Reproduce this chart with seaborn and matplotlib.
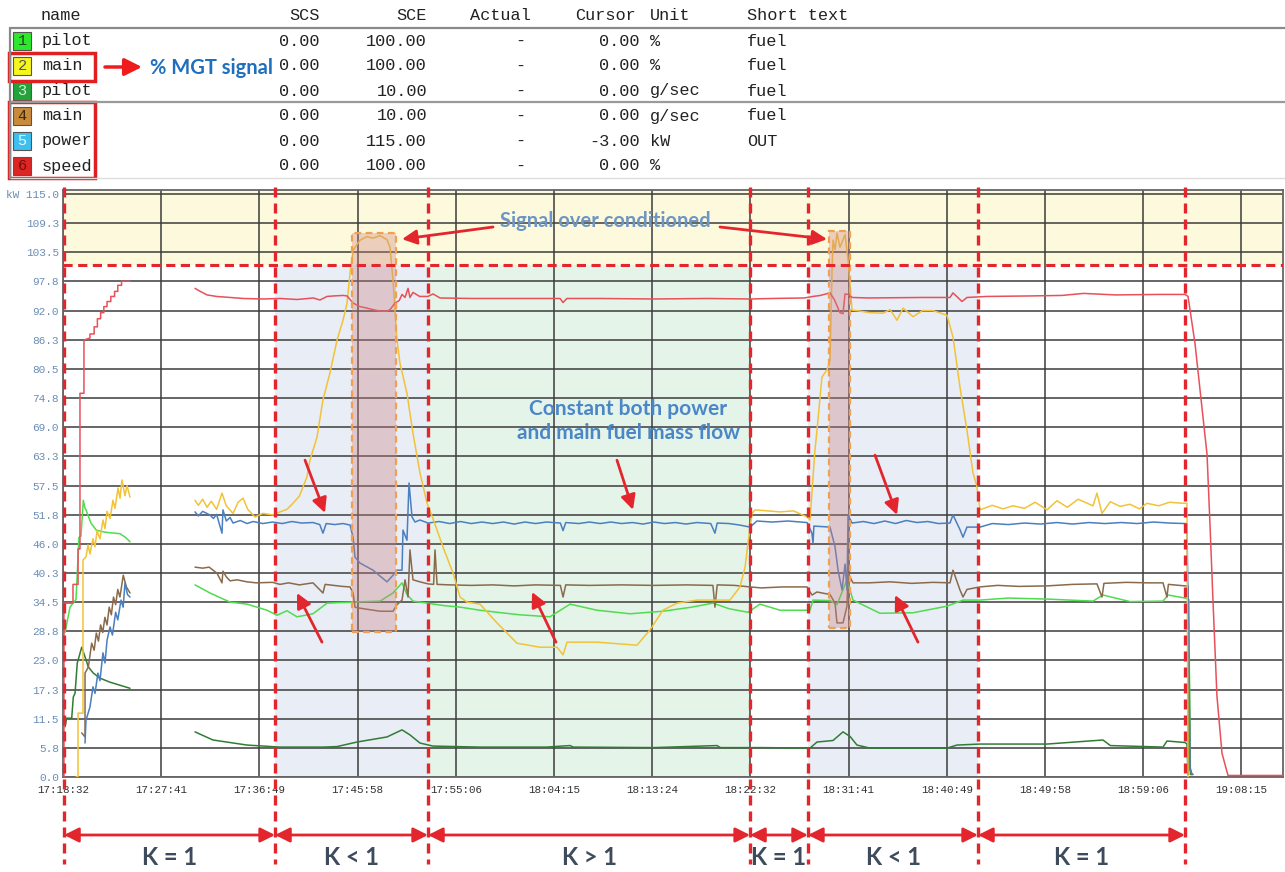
import pandas as pd
import seaborn as sns
import matplotlib.pyplot as plt
import matplotlib.transforms as mtransforms
from matplotlib.patches import Rectangle

# ---------------- data ----------------
# time axis: minutes after 17:18:32, one grid step = 9 min 08.5 s
tick_labels = ['17:18:32', '17:27:41', '17:36:49', '17:45:58', '17:55:06', '18:04:15', '18:13:24',
               '18:22:32', '18:31:41', '18:40:49', '18:49:58', '18:59:06', '19:08:15']
ytick_labels = ['0.0', '5.8', '11.5', '17.3', '23.0', '28.8', '34.5', '40.3', '46.0', '51.8', '57.5',
                '63.3', '69.0', '74.8', '80.5', '86.3', '92.0', '97.8', '103.5', '109.3', 'kW 115.0']

# channel table
sig_num = ['1', '2', '3', '4', '5', '6']
sig_name = ['pilot', 'main', 'pilot', 'main', 'power', 'speed']
sig_scs = ['0.00', '0.00', '0.00', '0.00', '0.00', '0.00']
sig_sce = ['100.00', '100.00', '10.00', '10.00', '115.00', '100.00']
sig_actual = ['-', '-', '-', '-', '-', '-']
sig_cursor = ['0.00', '0.00', '0.00', '0.00', '-3.00', '0.00']
sig_unit = ['%', '%', 'g/sec', 'g/sec', 'kW', '%']
sig_short = ['fuel', 'fuel', 'fuel', 'fuel', 'OUT', '']

# phases (minutes) and their K label
phase_edges = [0.1, 19.74, 33.98, 63.96, 69.35, 85.18, 104.45]
phase_labels = ['K = 1', 'K < 1', 'K > 1', 'K = 1', 'K < 1', 'K = 1']
speed_limit = 101.0
# over-conditioned windows: t0, t1, low, high
over_windows = [(26.9, 31.0, 28.6, 107.3), (71.31, 73.27, 29.4, 107.7)]

# traces: (minute, value)
speed_start = [(0.09, 0.0), (0.09, 34.3), (0.93, 34.3), (0.93, 38.0), (1.40, 38.0), (1.40, 45.0),
               (1.58, 45.0), (1.58, 75.7), (1.95, 75.7), (1.95, 86.2), (2.51, 86.6), (2.51, 87.4),
               (2.90, 87.4), (2.90, 88.8), (3.20, 88.8), (3.20, 90.4), (3.50, 90.4), (3.50, 91.6),
               (3.80, 91.6), (3.80, 92.8), (4.10, 92.8), (4.10, 93.8), (4.45, 93.8), (4.45, 94.8),
               (4.80, 94.8), (4.80, 95.8), (5.10, 95.8), (5.10, 97.0), (5.45, 97.0), (5.45, 97.8),
               (6.24, 97.8)]
speed_run = [(12.29, 96.4), (12.6, 96.0), (13.41, 95.1), (14.3, 94.8), (15.55, 94.6), (16.8, 94.4),
             (18.62, 94.3), (20.2, 94.4), (21.8, 94.2), (23.3, 94.5), (23.92, 94.1), (24.58, 94.8),
             (25.2, 94.9), (26.07, 95.0), (26.44, 94.9), (27.0, 93.5), (27.65, 92.8), (28.3, 92.5),
             (28.86, 92.2), (29.51, 91.9), (30.16, 91.9), (30.44, 92.2), (30.91, 93.5), (31.3, 94.0),
             (31.56, 95.2), (31.84, 94.6), (32.12, 96.4), (32.3, 94.6), (32.58, 95.6), (33.2, 94.8),
             (33.98, 94.8), (34.44, 95.3), (35.1, 94.5), (38.0, 94.4), (42.0, 94.4), (46.27, 94.4),
             (46.55, 93.6), (46.9, 94.4), (50.0, 94.4), (55.0, 94.3), (60.0, 94.4), (64.0, 94.3),
             (66.0, 94.4), (69.0, 94.5), (69.82, 94.8), (70.5, 95.0), (71.4, 95.5), (71.8, 94.2),
             (72.33, 91.6), (72.61, 91.4), (72.8, 95.3), (73.08, 95.2), (73.45, 94.6), (75.0, 94.5),
             (80.0, 94.6), (82.57, 94.6), (82.85, 95.5), (83.69, 93.8), (84.15, 94.6), (86.0, 94.8),
             (90.0, 94.9), (93.0, 95.0), (95.0, 95.4), (98.0, 95.1), (102.0, 95.2), (104.45, 95.2),
             (104.73, 94.8), (105.38, 85.5), (105.84, 76.5), (106.5, 63.6), (106.77, 50.0),
             (107.05, 34.9), (107.42, 16.0), (107.89, 4.7), (108.45, 0.3), (113.6, 0.3)]

power_start = [(2.05, 6.7), (2.14, 11.2), (2.51, 13.8), (2.79, 17.8), (2.98, 16.5), (3.25, 20.5),
               (3.44, 19.0), (3.72, 24.5), (3.91, 22.5), (4.10, 27.0), (4.38, 29.6), (4.6, 28.0),
               (4.9, 32.5), (5.1, 31.0), (5.40, 34.9), (5.6, 33.5), (5.77, 38.3), (6.0, 36.0), (6.24, 35.5)]
power_run = [(12.29, 52.3), (12.6, 51.5), (13.0, 52.4), (13.68, 51.7), (14.0, 51.0), (14.3, 51.8),
             (14.8, 48.1), (14.89, 52.7), (15.2, 50.5), (15.55, 51.2), (15.83, 50.1), (16.5, 50.6),
             (17.13, 50.0), (17.7, 50.4), (18.6, 50.0), (19.5, 50.3), (20.4, 50.0), (21.3, 50.4),
             (22.2, 50.1), (23.27, 50.2), (23.9, 49.8), (24.2, 48.1), (24.5, 50.0), (25.3, 49.8),
             (26.07, 50.0), (26.72, 49.7), (27.0, 47.3), (27.18, 43.4), (27.65, 42.2), (28.86, 40.8),
             (30.16, 38.5), (30.72, 39.8), (31.09, 40.8), (31.56, 40.8), (31.65, 48.7), (32.02, 46.7),
             (32.21, 58.0), (32.49, 51.3), (32.77, 50.3), (33.23, 50.7), (33.98, 50.1), (35.0, 50.4),
             (36.0, 50.0), (37.0, 50.4), (38.0, 50.0), (39.0, 50.3), (40.0, 50.0), (41.0, 50.3),
             (42.0, 49.9), (43.0, 50.3), (44.0, 50.0), (45.0, 50.3), (46.3, 50.1), (46.55, 48.6),
             (46.8, 50.2), (48.0, 50.0), (49.0, 50.3), (50.0, 50.0), (51.0, 50.3), (52.0, 50.0),
             (53.0, 50.2), (54.0, 49.9), (55.0, 50.3), (56.0, 50.0), (57.0, 50.2), (58.0, 49.9),
             (59.0, 50.2), (60.3, 50.0), (60.69, 48.1), (60.9, 50.1), (62.0, 50.0), (63.0, 49.7),
             (63.96, 49.3), (64.6, 50.5), (66.0, 50.3), (67.5, 50.5), (69.26, 50.2), (69.72, 48.1),
             (69.82, 46.1), (69.9, 49.5), (71.4, 49.3), (71.87, 45.4), (72.15, 40.8), (72.52, 36.9),
             (72.8, 42.0), (72.98, 36.9), (73.08, 51.7), (73.45, 50.1), (74.5, 50.4), (75.5, 50.0),
             (76.5, 50.5), (77.5, 50.0), (78.5, 50.6), (79.5, 50.2), (80.5, 50.4), (81.5, 50.0),
             (82.57, 50.1), (82.85, 51.7), (83.5, 48.8), (83.78, 47.3), (84.15, 49.3), (85.36, 49.3),
             (86.5, 50.0), (88.0, 49.8), (89.5, 50.1), (91.0, 49.9), (92.5, 50.2), (94.0, 49.9),
             (95.5, 50.2), (97.0, 50.0), (98.5, 50.2), (100.0, 50.0), (101.5, 50.3), (103.0, 50.1),
             (104.45, 50.0), (104.63, 50.0), (104.82, 21.0), (104.91, 1.4), (105.1, 0.5)]

main_pct_start = [(1.21, 0.0), (1.40, 0.0), (1.40, 12.6), (1.86, 12.6), (1.86, 42.8), (2.14, 43.4),
                  (2.33, 45.8), (2.51, 44.0), (2.79, 47.0), (2.98, 45.4), (3.17, 48.6), (3.44, 47.0),
                  (3.72, 50.7), (3.91, 49.0), (4.10, 52.4), (4.38, 51.0), (4.65, 54.6), (4.84, 53.0),
                  (5.12, 57.0), (5.31, 55.0), (5.49, 58.6), (5.77, 55.5), (5.96, 57.5), (6.24, 55.2)]
main_pct_run = [(12.29, 54.6), (12.6, 53.6), (13.0, 54.8), (13.41, 53.2), (13.8, 54.4), (14.3, 52.8),
                (14.8, 56.0), (15.2, 53.5), (15.83, 52.0), (16.3, 54.2), (16.76, 55.0), (17.2, 52.8),
                (17.87, 51.3), (18.6, 52.0), (19.55, 51.7), (20.2, 52.3), (20.85, 52.8), (21.41, 54.0),
                (22.0, 55.4), (22.34, 57.2), (22.71, 59.2), (22.99, 62.5), (23.64, 67.0), (24.2, 74.4),
                (24.85, 79.7), (25.51, 86.2), (26.07, 90.1), (26.44, 93.5), (26.72, 99.4), (27.0, 103.9),
                (27.65, 105.9), (28.3, 106.6), (28.86, 106.3), (29.5, 106.8), (30.16, 106.0), (30.44, 104.5),
                (30.72, 98.0), (31.09, 86.2), (31.37, 81.6), (32.02, 75.7), (32.58, 67.8), (33.23, 60.0),
                (33.89, 54.0), (34.44, 51.0), (35.37, 45.4), (36.31, 40.2), (36.96, 35.5), (37.61, 34.5),
                (38.82, 34.1), (40.4, 30.4), (42.26, 26.4), (44.4, 25.6), (45.99, 25.6), (46.55, 24.1),
                (46.92, 26.6), (49.71, 26.6), (53.43, 26.0), (54.64, 29.0), (55.85, 32.9), (57.16, 34.3),
                (59.02, 34.9), (62.09, 34.9), (63.02, 37.5), (63.49, 41.4), (63.77, 46.2), (64.14, 52.0),
                (64.42, 52.7), (66.75, 52.3), (68.0, 52.5), (69.26, 51.3), (69.54, 50.7), (69.82, 59.2),
                (70.0, 64.5), (70.19, 68.4), (70.65, 78.9), (71.12, 80.3), (71.4, 82.2), (71.59, 100.0),
                (71.68, 105.9), (71.87, 104.0), (72.05, 107.3), (72.33, 104.5), (72.8, 107.0),
                (73.08, 102.0), (73.45, 92.1), (73.91, 92.0), (75.12, 91.6), (76.33, 91.5), (77.0, 92.2),
                (77.64, 90.1), (78.2, 92.5), (79.13, 90.8), (80.0, 92.0), (80.99, 92.0), (82.29, 91.1),
                (82.85, 86.8), (83.5, 76.9), (84.15, 68.4), (84.71, 60.0), (85.09, 57.2), (85.36, 52.7),
                (86.5, 53.6), (87.5, 52.9), (88.44, 53.5), (89.5, 53.0), (90.5, 54.2), (91.6, 52.7),
                (92.53, 54.5), (93.5, 53.2), (94.5, 54.8), (95.88, 53.5), (96.25, 56.0), (96.72, 52.0),
                (97.5, 54.3), (98.4, 53.4), (99.33, 53.8), (100.2, 52.9), (100.91, 54.0), (102.0, 53.5),
                (103.0, 54.2), (104.26, 54.0), (104.63, 54.0), (104.73, 0.0)]

main_gs_start = [(1.74, 8.7), (2.05, 7.9), (2.05, 20.5), (2.36, 21.7), (2.67, 26.4), (2.9, 25.0),
                 (3.1, 28.4), (3.3, 26.8), (3.5, 30.0), (3.7, 28.5), (3.9, 31.5), (4.1, 30.0),
                 (4.3, 33.5), (4.5, 32.0), (4.7, 35.5), (4.9, 34.0), (5.1, 37.0), (5.3, 35.5),
                 (5.61, 39.8), (5.9, 37.5), (6.24, 36.3)]
main_gs_run = [(12.29, 41.4), (13.0, 41.2), (13.6, 41.4), (14.34, 40.2), (14.8, 38.3), (14.89, 40.6),
               (15.2, 39.5), (15.55, 38.7), (16.2, 38.9), (17.13, 38.5), (18.0, 38.3), (19.5, 38.4),
               (20.2, 38.0), (21.0, 38.3), (22.0, 37.9), (23.27, 38.3), (24.2, 36.3), (24.4, 38.0),
               (25.2, 37.8), (26.0, 37.6), (26.72, 37.5), (27.0, 36.3), (27.18, 33.5), (27.65, 33.3),
               (29.51, 32.7), (30.72, 32.7), (31.09, 34.0), (31.56, 34.9), (31.84, 38.9), (32.12, 35.5),
               (32.3, 44.8), (32.58, 38.9), (33.23, 38.5), (33.98, 38.1), (34.5, 38.0), (34.63, 44.8),
               (34.82, 38.0), (36.0, 37.9), (38.0, 37.8), (40.0, 37.9), (42.0, 37.7), (44.0, 37.9),
               (46.3, 37.8), (46.55, 35.5), (46.8, 37.9), (49.0, 37.8), (52.0, 37.9), (55.0, 37.8),
               (58.0, 37.9), (60.5, 37.8), (60.69, 33.5), (60.9, 37.9), (62.5, 37.8), (63.96, 37.5),
               (65.0, 37.3), (67.0, 37.5), (69.26, 37.5), (69.72, 35.9), (70.19, 36.5), (71.4, 36.0),
               (71.87, 34.3), (72.05, 30.4), (72.61, 30.4), (72.98, 33.7), (73.08, 40.2), (73.54, 38.3),
               (75.0, 38.3), (77.0, 38.5), (79.0, 38.2), (81.0, 38.4), (82.57, 38.3), (82.85, 40.8),
               (83.5, 36.9), (83.78, 35.5), (84.15, 37.0), (85.36, 37.5), (87.0, 37.8), (89.0, 37.6),
               (91.6, 37.7), (94.0, 38.0), (96.25, 38.1), (96.72, 35.5), (96.9, 38.2), (99.0, 38.4),
               (101.0, 38.3), (102.4, 38.3), (102.77, 35.5), (102.9, 38.0), (104.45, 37.7),
               (104.73, 37.7), (104.9, 2.0), (105.1, 0.5)]

pilot_pct_start = [(0.19, 28.5), (0.65, 33.5), (0.93, 34.3), (1.21, 35.0), (1.49, 47.3), (1.67, 47.5),
                   (1.89, 54.6), (2.05, 53.0), (2.14, 52.7), (2.6, 50.1), (3.1, 48.7), (3.9, 48.3),
                   (4.8, 48.1), (5.3, 48.0), (5.8, 47.3), (6.24, 46.4)]
pilot_pct_run = [(12.29, 37.9), (13.68, 36.3), (15.55, 34.5), (17.13, 34.1), (18.99, 32.9), (19.92, 31.9),
                 (20.85, 32.8), (21.78, 31.6), (23.27, 32.2), (24.58, 34.3), (27.0, 34.5), (29.51, 34.7),
                 (30.72, 36.3), (31.56, 38.3), (32.02, 36.0), (32.58, 34.7), (33.89, 34.3), (35.5, 33.8),
                 (37.0, 33.5), (38.82, 32.9), (40.4, 32.5), (42.5, 32.0), (45.33, 31.6), (47.2, 34.1),
                 (49.71, 32.9), (52.78, 32.2), (55.85, 32.7), (58.5, 33.5), (60.51, 34.3), (62.0, 33.2),
                 (63.77, 32.5), (64.88, 34.1), (66.75, 32.9), (69.54, 32.9), (69.82, 34.9), (71.4, 34.8),
                 (72.05, 34.0), (72.98, 38.9), (73.54, 34.9), (76.05, 32.3), (79.13, 32.4), (82.29, 33.7),
                 (83.78, 34.9), (85.36, 34.9), (88.0, 35.3), (91.6, 35.1), (95.88, 34.7), (96.81, 35.9),
                 (99.33, 34.6), (102.4, 34.7), (102.87, 35.9), (104.45, 35.3), (104.82, 35.0),
                 (104.9, 1.5), (105.1, 0.5)]

pilot_gs_start = [(0.19, 9.9), (0.34, 11.6), (0.81, 11.6), (0.96, 15.8), (1.12, 16.5), (1.33, 22.5),
                  (1.74, 25.6), (2.05, 23.7), (2.36, 21.7), (2.82, 20.5), (3.44, 19.5), (4.38, 18.7),
                  (5.31, 18.1), (6.24, 17.5)]
pilot_gs_run = [(12.29, 8.9), (13.96, 7.3), (17.13, 6.3), (20.2, 5.9), (24.2, 5.9), (25.5, 6.0),
                (27.37, 6.9), (30.16, 7.9), (31.56, 9.3), (32.3, 8.3), (33.23, 6.7), (34.44, 6.1),
                (38.82, 5.9), (45.0, 5.9), (47.2, 6.2), (47.5, 5.9), (55.0, 5.8), (60.88, 6.2),
                (61.2, 5.8), (65.0, 5.8), (69.54, 5.7), (70.19, 6.9), (71.68, 7.2), (72.61, 8.9),
                (73.27, 8.0), (73.91, 6.3), (75.12, 5.7), (82.29, 5.7), (83.22, 6.3), (85.36, 6.5),
                (91.6, 6.5), (96.81, 7.3), (97.5, 6.2), (102.4, 5.9), (102.77, 7.1), (104.45, 6.8),
                (104.63, 6.5), (104.73, 0.5), (104.82, 25.0), (104.95, 0.5), (105.2, 0.5)]

traces = [
    ('pilot g/s', '#2f7d34', [pilot_gs_start, pilot_gs_run]),
    ('pilot %', '#4fdc4f', [pilot_pct_start, pilot_pct_run]),
    ('main g/s', '#8a6a4c', [main_gs_start, main_gs_run]),
    ('power', '#4a7fc0', [power_start, power_run]),
    ('main %', '#f2c238', [main_pct_start, main_pct_run]),
    ('speed', '#e8505a', [speed_start, speed_run]),
]

rows = []
for name, _, segs in traces:
    for k, seg in enumerate(segs):
        for t, v in seg:
            rows.append((name, f'{name}#{k}', t, v))
df = pd.DataFrame(rows, columns=['signal', 'seg', 't', 'v'])

# ---------------- figure ----------------
sns.set_style('white')
plt.rcParams['font.family'] = ['Lato', 'DejaVu Sans']

W, H = 1285, 872
fig = plt.figure(figsize=(W / 100, H / 100), dpi=100)
fx = lambda px: px / W
fy = lambda py: 1 - py / H

ax = fig.add_axes([fx(63), fy(777), (1283 - 63) / W, (777 - 190) / H])
step = 548.5 / 60
ax.set_xlim(0, 113.57)
ax.set_ylim(0, 115.8)

# background regions
ax.axhspan(speed_limit, 115.8, color='#fcf9dc', zorder=0, lw=0)
phase_fill = {'K < 1': '#e9edf5', 'K > 1': '#e5f4e8'}
for x0, x1, lab in zip(phase_edges[:-1], phase_edges[1:], phase_labels):
    if lab in phase_fill:
        ax.add_patch(Rectangle((x0, 0), x1 - x0, speed_limit, color=phase_fill[lab], lw=0, zorder=0))

sns.lineplot(data=df, x='t', y='v', hue='signal', units='seg', estimator=None, sort=False,
             hue_order=[n for n, _, _ in traces], palette={n: c for n, c, _ in traces},
             legend=False, lw=1.1, ax=ax, zorder=3)

for t0, t1, lo, hi in over_windows:
    ax.add_patch(Rectangle((t0, lo), t1 - t0, hi - lo, facecolor=(0.80, 0.50, 0.50, 0.35),
                           edgecolor='#f0a050', ls=(0, (3, 2)), lw=1.6, zorder=4))

ax.set_xticks([k * step for k in range(len(tick_labels))])
ax.set_xticklabels(tick_labels, family='Liberation Mono', fontsize=7.8, color='#333333')
ax.set_yticks([k * 5.75 for k in range(len(ytick_labels))])
ax.set_yticklabels(ytick_labels, family='Liberation Mono', fontsize=8, color='#6b8db5')
ax.tick_params(axis='y', length=0, pad=3)
ax.tick_params(axis='x', length=0, pad=6)
ax.set_xlabel('')
ax.set_ylabel('')
ax.grid(True, color='#3c3c3c', lw=1.1)
ax.set_axisbelow('line')
for s in ax.spines.values():
    s.set_color('#666666')
    s.set_linewidth(1.3)

red = '#e3262e'
blend = mtransforms.blended_transform_factory(ax.transData, fig.transFigure)
ax.axhline(speed_limit, color=red, lw=2.2, dashes=(3, 1.8), zorder=5)
for x in phase_edges:
    ax.plot([x, x], [fy(187), fy(864)], transform=blend, color=red, lw=2.4, dashes=(3, 1.8),
            clip_on=False, zorder=6)
for x0, x1, lab in zip(phase_edges[:-1], phase_edges[1:], phase_labels):
    ax.annotate('', xy=(x1, fy(835)), xytext=(x0, fy(835)), xycoords=blend, textcoords=blend,
                arrowprops=dict(arrowstyle='<|-|>', color=red, lw=2, mutation_scale=22,
                                shrinkA=0, shrinkB=0), annotation_clip=False)
    ax.text((x0 + x1) / 2, fy(857), lab, transform=blend, ha='center', va='center',
            fontsize=17, fontweight='bold', color='#3d4b5c')

# annotations in the plot
arrow_kw = dict(arrowstyle='-|>', color=red, lw=2, mutation_scale=22, shrinkA=0, shrinkB=0)
for tail, head in [((40.03, 108.5), (31.56, 106.1)), ((61.16, 108.5), (71.12, 106.1)),
                   ((22.53, 62.5), (24.39, 52.1)), ((24.11, 26.6), (21.78, 36.3)),
                   ((51.57, 62.5), (53.06, 52.7)), ((45.89, 26.6), (43.66, 36.5)),
                   ((75.59, 63.5), (77.64, 51.7)), ((79.59, 26.6), (77.45, 35.9))]:
    ax.annotate('', xy=head, xytext=tail, arrowprops=arrow_kw, zorder=7)
ax.text(50.45, 109.6, 'Signal over conditioned', ha='center', va='center', fontsize=14.5,
        fontweight='bold', color='#6d96c4', zorder=7)
ax.text(52.6, 70.3, 'Constant both power\nand main fuel mass flow', ha='center', va='center',
        fontsize=15, fontweight='bold', color='#4a86c8', linespacing=1.25, zorder=7)

# ---------------- channel table ----------------
mono = dict(family='Liberation Mono', fontsize=12.2, color='#222222', va='center')
fig.text(fx(41), fy(16), 'name', ha='left', **mono)
fig.text(fx(320), fy(16), 'SCS', ha='right', **mono)
fig.text(fx(427), fy(16), 'SCE', ha='right', **mono)
fig.text(fx(500), fy(16), 'Actual', ha='center', **mono)
fig.text(fx(575), fy(16), 'Cursor', ha='left', **mono)
fig.text(fx(650), fy(16), 'Unit', ha='left', **mono)
fig.text(fx(747), fy(16), 'Short text', ha='left', **mono)

box_fc = ['#2ee82e', '#f5f520', '#23a33a', '#c98a3a', '#3cc0f0', '#e02424']
box_tc = ['#1a4d1a', '#555555', '#d8f5d8', '#3a2a10', '#eef9ff', '#701010']
for i in range(len(sig_num)):
    py = 41 + 25 * i
    fig.add_artist(Rectangle((fx(13), fy(py + 9)), 18 / W, 18 / H, transform=fig.transFigure,
                             facecolor=box_fc[i], edgecolor='#555555', lw=0.8))
    fig.text(fx(22), fy(py), sig_num[i], ha='center', family='Liberation Mono', fontsize=11,
             color=box_tc[i], va='center')
    fig.text(fx(42), fy(py), sig_name[i], ha='left', **mono)
    fig.text(fx(320), fy(py), sig_scs[i], ha='right', **mono)
    fig.text(fx(427), fy(py), sig_sce[i], ha='right', **mono)
    fig.text(fx(520), fy(py), sig_actual[i], ha='center', **mono)
    fig.text(fx(640), fy(py), sig_cursor[i], ha='right', **mono)
    fig.text(fx(650), fy(py), sig_unit[i], ha='left', **mono)
    fig.text(fx(747), fy(py), sig_short[i], ha='left', **mono)

for py, col, lw in [(28, '#8a8a8a', 1.6), (102, '#9a9a9a', 1.6), (178, '#dddddd', 1.0)]:
    fig.add_artist(plt.Line2D([fx(10), fx(1285)], [fy(py), fy(py)], color=col, lw=lw))
fig.add_artist(plt.Line2D([fx(10), fx(10)], [fy(28), fy(178)], color='#8a8a8a', lw=1.6))

for y0, y1 in [(53, 81), (102, 178)]:
    fig.add_artist(Rectangle((fx(9), fy(y1)), 86 / W, (y1 - y0) / H, transform=fig.transFigure,
                             fill=False, edgecolor='#e02020', lw=2.5))
fig.add_artist(plt.Annotation('', xy=(fx(142), fy(67)), xytext=(fx(105), fy(67)),
                              xycoords='figure fraction', textcoords='figure fraction',
                              arrowprops=dict(arrowstyle='-|>', color='#ee1c1c', lw=2.5,
                                              mutation_scale=26, shrinkA=0, shrinkB=0)))
fig.text(fx(150), fy(68), '% MGT signal', ha='left', va='center', fontsize=14.5,
         fontweight='bold', color='#1f6fbf')

fig.savefig('out.png', dpi=100)
